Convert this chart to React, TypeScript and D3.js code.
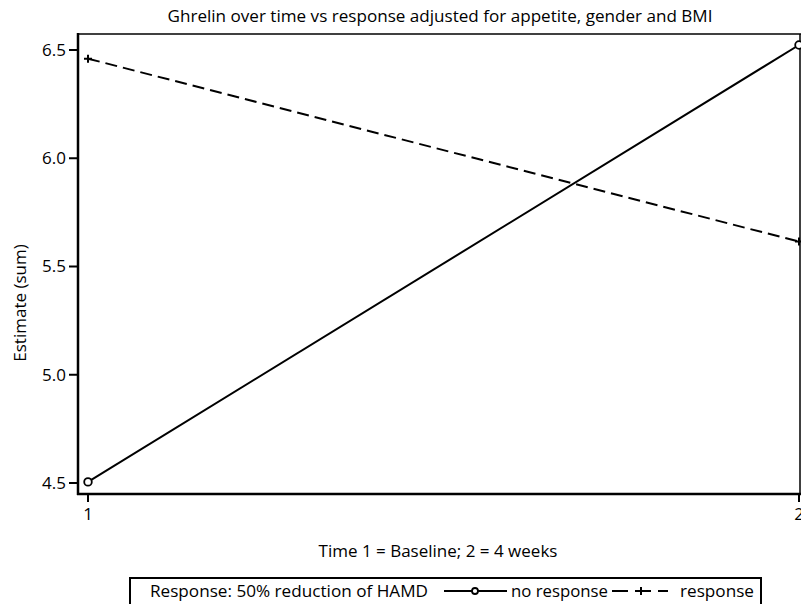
import React from "react";
import * as d3 from "d3";

const times = [1, 2];
const noResponse = [4.505, 6.523];
const response = [6.46, 5.615];
const yTicks = [4.5, 5.0, 5.5, 6.0, 6.5];
const xTicks = [1, 2];

const W = 801;
const H = 604;
const FONT = "'Open Sans', sans-serif";
const FS = 17;

export default function App() {
  const left = 78, top = 34, bottom = 494, right = 800;
  const x = d3.scaleLinear().domain([1, 2]).range([88, 799]);
  const y = d3.scaleLinear().domain([4.5, 6.5]).range([483, 50]);

  const line = d3.line<number>().x((_, i) => x(times[i])).y(d => y(d));

  const plus = (cx: number, cy: number, s: number) =>
    `M${cx - s},${cy}H${cx + s}M${cx},${cy - s}V${cy + s}`;

  return (
    <svg width={W} height={H} style={{ position: "absolute", left: 0, top: 0, background: "#fff" }}
      fontFamily={FONT}>
      <text x={440} y={22} textAnchor="middle" fontSize={FS} textLength={545} lengthAdjust="spacingAndGlyphs">
        Ghrelin over time vs response adjusted for appetite, gender and BMI
      </text>

      {/* frame */}
      <line x1={left} x2={right + 2} y1={top} y2={top} stroke="#000" strokeWidth={1.5} />
      <line x1={right} x2={right} y1={top} y2={bottom} stroke="#000" strokeWidth={1.5} />
      <line x1={left} x2={left} y1={top - 1} y2={bottom + 1} stroke="#000" strokeWidth={2.5} />
      <line x1={left - 1} x2={right + 2} y1={bottom} y2={bottom} stroke="#000" strokeWidth={2.5} />

      {yTicks.map(t => (
        <g key={t}>
          <line x1={left - 9} x2={left} y1={y(t)} y2={y(t)} stroke="#000" strokeWidth={2} />
          <text x={left - 12} y={y(t)} dy="0.35em" textAnchor="end" fontSize={FS}>
            {d3.format(".1f")(t)}
          </text>
        </g>
      ))}
      {xTicks.map(t => (
        <g key={t}>
          <line x1={x(t)} x2={x(t)} y1={bottom} y2={bottom + 8} stroke="#000" strokeWidth={2} />
          <text x={x(t)} y={bottom + 26} textAnchor="middle" fontSize={FS}>{t}</text>
        </g>
      ))}

      <text transform={`translate(26,${303}) rotate(-90)`} textAnchor="middle" fontSize={FS}>
        Estimate (sum)
      </text>
      <text x={438} y={557} textAnchor="middle" fontSize={FS}>
        Time 1 = Baseline; 2 = 4 weeks
      </text>

      {/* series */}
      <path d={line(noResponse) || ""} fill="none" stroke="#000" strokeWidth={2} />
      <path d={line(response) || ""} fill="none" stroke="#000" strokeWidth={2} strokeDasharray="12,6" />
      {noResponse.map((v, i) => (
        <circle key={i} cx={x(times[i])} cy={y(v)} r={3.8} fill="#fff" stroke="#000" strokeWidth={1.8} />
      ))}
      {response.map((v, i) => (
        <path key={i} d={plus(x(times[i]), y(v), 4)} stroke="#000" strokeWidth={2} />
      ))}

      {/* legend */}
      <rect x={130} y={578} width={631} height={30} fill="#fff" stroke="#000" strokeWidth={2} />
      <text x={150} y={597} fontSize={FS} textLength={278} lengthAdjust="spacingAndGlyphs">Response: 50% reduction of HAMD</text>
      <line x1={444} x2={507} y1={591} y2={591} stroke="#000" strokeWidth={2} />
      <circle cx={475} cy={591} r={3} fill="#fff" stroke="#000" strokeWidth={1.8} />
      <text x={511} y={597} fontSize={FS} textLength={97} lengthAdjust="spacingAndGlyphs">no response</text>
      <line x1={612} x2={668} y1={591} y2={591} stroke="#000" strokeWidth={2} strokeDasharray="16,7" />
      <path d={plus(641, 591, 4)} stroke="#000" strokeWidth={2} />
      <text x={680} y={597} fontSize={FS} textLength={74} lengthAdjust="spacingAndGlyphs">response</text>
    </svg>
  );
}
